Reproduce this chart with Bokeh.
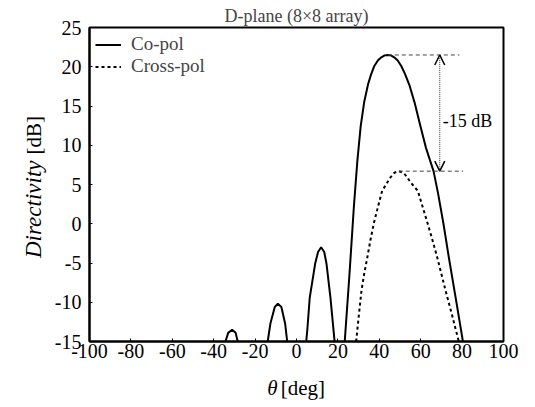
import math
from bokeh.plotting import figure
from bokeh.layouts import row, column
from bokeh.models import Arrow, OpenHead, FixedTicker, Range1d, Label
from bokeh.core.properties import value
from bokeh.embed import file_html
from bokeh.resources import INLINE

FONT = "Liberation Serif"

title_text = "D-plane (8×8 array)"
x_ticks = [-100, -80, -60, -40, -20, 0, 20, 40, 60, 80, 100]
y_ticks = [-15, -10, -5, 0, 5, 10, 15, 20, 25]

# Co-pol: side lobes and main lobe (theta in deg, directivity in dB)
co_lobe1_theta = [-34.3, -33.0, -31.1, -29.4, -28.4]
co_lobe1_db = [-15, -13.9, -13.5, -13.9, -15]
co_lobe2_theta = [-13.9, -12.6, -10.5, -9.0, -7.3, -5.5, -4.5]
co_lobe2_db = [-15, -12.7, -10.6, -10.2, -10.6, -12.7, -15]
co_lobe3_theta = [4.7, 5.2, 6.4, 9.0, 10.4, 11.9, 13.4, 14.5, 16.4, 17.9, 18.4]
co_lobe3_db = [-15, -13.6, -9.4, -5.1, -3.6, -3.0, -3.6, -5.1, -9.4, -13.6, -15]
co_main_theta = [23.3, 25.6, 27.7, 29.4, 31.0, 32.7, 34.6, 36.0, 37.6, 39.3,
                 41.0, 42.6, 44.1, 45.6, 47.2, 48.9, 50.6, 52.4, 54.5, 57.2,
                 59.7, 62.5, 66.2, 68.3, 71.0, 73.6, 77.0, 80.4]
co_main_db = [-15, -6.4, 2.1, 8.0, 12.4, 15.5, 17.8, 19.0, 20.1, 20.8,
              21.2, 21.45, 21.5, 21.45, 21.2, 20.8, 20.1, 19.1, 17.7, 15.3,
              12.6, 9.7, 6.7, 4.0, 0.0, -4.3, -9.6, -15]

# Cross-pol
cross_theta = [28.8, 30.1, 31.4, 32.7, 34.2, 35.7, 37.3, 39.3, 41.4, 43.5, 45.4,
               47.3, 49.4, 51.6, 53.3, 55.0, 58.6, 61.0, 63.4, 65.7, 68.0,
               70.0, 72.0, 75.2, 78.4]
cross_db = [-15, -11.7, -8.5, -6.4, -4.3, -2.1, 0.0, 2.1, 4.2, 5.1, 5.9,
            6.5, 6.7, 6.5, 6.0, 5.3, 4.2, 2.1, 0.0, -2.1, -4.3,
            -6.4, -8.5, -11.7, -15]

# Annotation: peak levels and where the guide lines end
peak_levels = [21.5, 6.7]
peak_thetas = [44.1, 49.4]
guide_ends = [78.7, 80.5]
arrow_theta = 69.2
diff_label = "-15 dB"

# Axis titles (italic part, upright part)
y_title = ["Directivity", "[dB]"]
x_title = ["θ", "[deg]"]

nan = float("nan")
co_theta = (co_lobe1_theta + [nan] + co_lobe2_theta + [nan] +
            co_lobe3_theta + [nan] + co_main_theta)
co_db = (co_lobe1_db + [nan] + co_lobe2_db + [nan] +
         co_lobe3_db + [nan] + co_main_db)

YLAB_W = 48
MAIN_W = 535 - YLAB_W
MAIN_H = 370
XLAB_H = 407 - MAIN_H

p = figure(width=MAIN_W, height=MAIN_H, output_backend="svg",
           toolbar_location=None,
           x_range=Range1d(-100, 100), y_range=Range1d(-15, 25),
           min_border_left=89 - YLAB_W, min_border_right=32, min_border_top=27,
           min_border_bottom=MAIN_H - 341)
p.background_fill_color = "white"
p.border_fill_color = "white"
p.grid.visible = False
p.outline_line_color = "black"
p.outline_line_width = 2

p.title.text = title_text
p.title.align = "center"
p.title.text_font = FONT
p.title.text_font_size = "18px"
p.title.text_font_style = "normal"
p.title.standoff = 4

for ax in (p.xaxis[0], p.yaxis[0]):
    ax.axis_line_color = "black"
    ax.axis_line_width = 2
    ax.major_tick_in = 3
    ax.major_tick_out = 0
    ax.minor_tick_in = 0
    ax.minor_tick_out = 0
    ax.major_tick_line_color = "black"
    ax.major_label_text_font = FONT
    ax.major_label_text_font_size = "20px"
    ax.major_label_text_color = "black"
    ax.axis_label = None
p.xaxis.ticker = FixedTicker(ticks=x_ticks)
p.yaxis.ticker = FixedTicker(ticks=y_ticks)
p.xaxis.major_label_overrides = {t: str(t) for t in x_ticks}
p.yaxis.major_label_overrides = {t: str(t) for t in y_ticks}
p.xaxis.major_label_standoff = 2
p.yaxis.major_label_standoff = 8

p.line(co_theta, co_db, line_color="black", line_width=2, legend_label="Co-pol")
p.line(cross_theta, cross_db, line_color="black", line_width=2,
       line_dash="3 3", legend_label="Cross-pol")

# guide lines and arrow
p.segment(x0=peak_thetas, y0=peak_levels, x1=guide_ends, y1=peak_levels,
          line_color="#444444", line_width=1, line_dash="4 3")
p.add_layout(Arrow(x_start=arrow_theta, y_start=peak_levels[1],
                   x_end=arrow_theta, y_end=peak_levels[0],
                   line_color="#333333", line_width=1, line_dash="1 1",
                   start=OpenHead(size=10, line_width=1.5, line_color="black"),
                   end=OpenHead(size=10, line_width=1.5, line_color="black")))
p.add_layout(Label(x=70.7, y=13.1, text=diff_label, text_font=FONT,
                   text_font_size="18px", text_align="left",
                   text_baseline="middle", text_color="black"))

# legend
lg = p.legend[0]
lg.location = "top_left"
lg.border_line_color = None
lg.background_fill_alpha = 0
lg.label_text_font = FONT
lg.label_text_font_size = "19px"
lg.glyph_width = 26
lg.glyph_height = 19
lg.label_height = 19
lg.label_standoff = 10
lg.spacing = 0
lg.padding = 0
lg.margin = 6


def text_panel(w, h):
    f = figure(width=w, height=h, output_backend="svg", toolbar_location=None,
               x_range=Range1d(0, w), y_range=Range1d(0, h),
               x_axis_type=None, y_axis_type=None, min_border=0)
    f.grid.visible = False
    f.outline_line_color = None
    f.background_fill_color = "white"
    f.border_fill_color = "white"
    return f


# y axis title panel (pixel coordinates, origin bottom-left)
yl = text_panel(YLAB_W, 407)
yl.text(x=[33], y=[247], text=[y_title[0]], angle=math.pi / 2,
        text_font=value(FONT), text_font_size="23px",
        text_font_style="italic", text_align="right",
        text_baseline="middle", text_color="black")
yl.text(x=[33], y=[253], text=[y_title[1]], angle=math.pi / 2,
        text_font=value(FONT), text_font_size="21px",
        text_align="left", text_baseline="middle", text_color="black")

# x axis title panel
xl = text_panel(MAIN_W, XLAB_H)
xl.text(x=[257 - YLAB_W], y=[XLAB_H - 17], text=[x_title[0]],
        text_font=value(FONT), text_font_size="21px",
        text_font_style="italic", text_align="left",
        text_baseline="middle", text_color="black")
xl.text(x=[273 - YLAB_W], y=[XLAB_H - 17], text=[x_title[1]],
        text_font=value(FONT), text_font_size="21px",
        text_align="left", text_baseline="middle", text_color="black")

layout = row(yl, column(p, xl, spacing=0), spacing=0)

open("out.html", "w").write(file_html(layout, INLINE))
